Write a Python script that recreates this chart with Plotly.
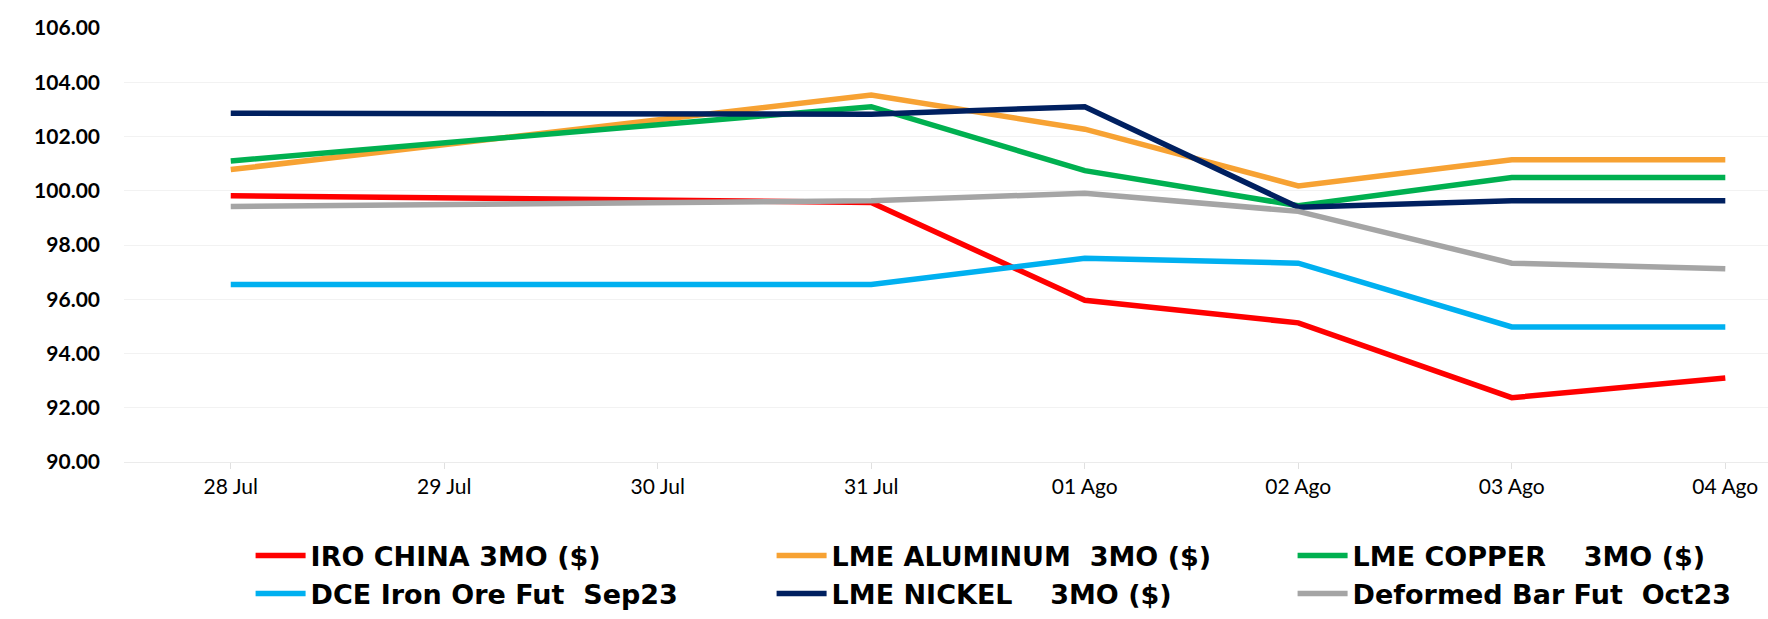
import plotly.graph_objects as go

dates = ["28 Jul", "29 Jul", "30 Jul", "31 Jul", "01 Ago", "02 Ago", "03 Ago", "04 Ago"]

# 29/30 Jul are weekend days with no quote, the line is just joined across them
iro_china = [99.82, None, None, 99.57, 95.96, 95.13, 92.37, 93.10]
lme_aluminum = [100.78, None, None, 103.53, 102.27, 100.18, 101.14, 101.14]
lme_copper = [101.10, None, None, 103.10, 100.74, 99.45, 100.49, 100.49]
dce_iron_ore = [96.54, None, None, 96.54, 97.51, 97.33, 94.98, 94.98]
lme_nickel = [102.86, None, None, 102.82, 103.10, 99.39, 99.63, 99.63]
deformed_bar = [99.42, None, None, 99.63, 99.91, 99.24, 97.33, 97.12]

series = [
    ("IRO CHINA 3MO ($)", iro_china, "#FF0000"),
    ("LME ALUMINUM  3MO ($)", lme_aluminum, "#F7A233"),
    ("LME COPPER    3MO ($)", lme_copper, "#00B050"),
    ("DCE Iron Ore Fut  Sep23", dce_iron_ore, "#00B0F0"),
    ("LME NICKEL    3MO ($)", lme_nickel, "#002060"),
    ("Deformed Bar Fut  Oct23", deformed_bar, "#A5A5A5"),
]

fig = go.Figure()
for name, vals, col in series:
    fig.add_trace(go.Scatter(x=list(range(len(dates))), y=vals, mode="lines", name=name,
                             connectgaps=True, line=dict(color=col, width=5.5)))

fig.update_layout(
    width=1768, height=619,
    margin=dict(l=124, r=0, t=28, b=157, autoexpand=False),
    paper_bgcolor="white", plot_bgcolor="white",
    showlegend=True,
    legend=dict(orientation="h", x=0.077, y=-0.16, xanchor="left", yanchor="top",
                entrywidth=456, entrywidthmode="pixels",
                font=dict(family="DejaVu Sans", size=27, color="black", weight="bold"),
                itemwidth=50, tracegroupgap=0),
)
fig.update_yaxes(range=[90, 106], dtick=2, tickformat=".2f",
                 showgrid=True, gridcolor="#F2F2F2", zeroline=False,
                 tickfont=dict(family="Lato", size=21, color="black", weight="bold"),
                 ticks="", ticklabelstandoff=23)
fig.update_xaxes(range=[-0.5, 7.2], tickmode="array", tickvals=list(range(len(dates))),
                 ticktext=dates, showgrid=False, zeroline=False,
                 showline=True, linecolor="#EBEBEB", linewidth=1,
                 ticks="outside", tickson="boundaries", ticklen=6, tickcolor="#E0E0E0",
                 tickfont=dict(family="Lato", size=21, color="black"))

# page has the default 8px body margin, drop it so the figure fills the window
fig.write_html("out.html", config={"displayModeBar": False},
               post_script="document.body.style.margin='0';document.body.style.overflow='hidden';")
